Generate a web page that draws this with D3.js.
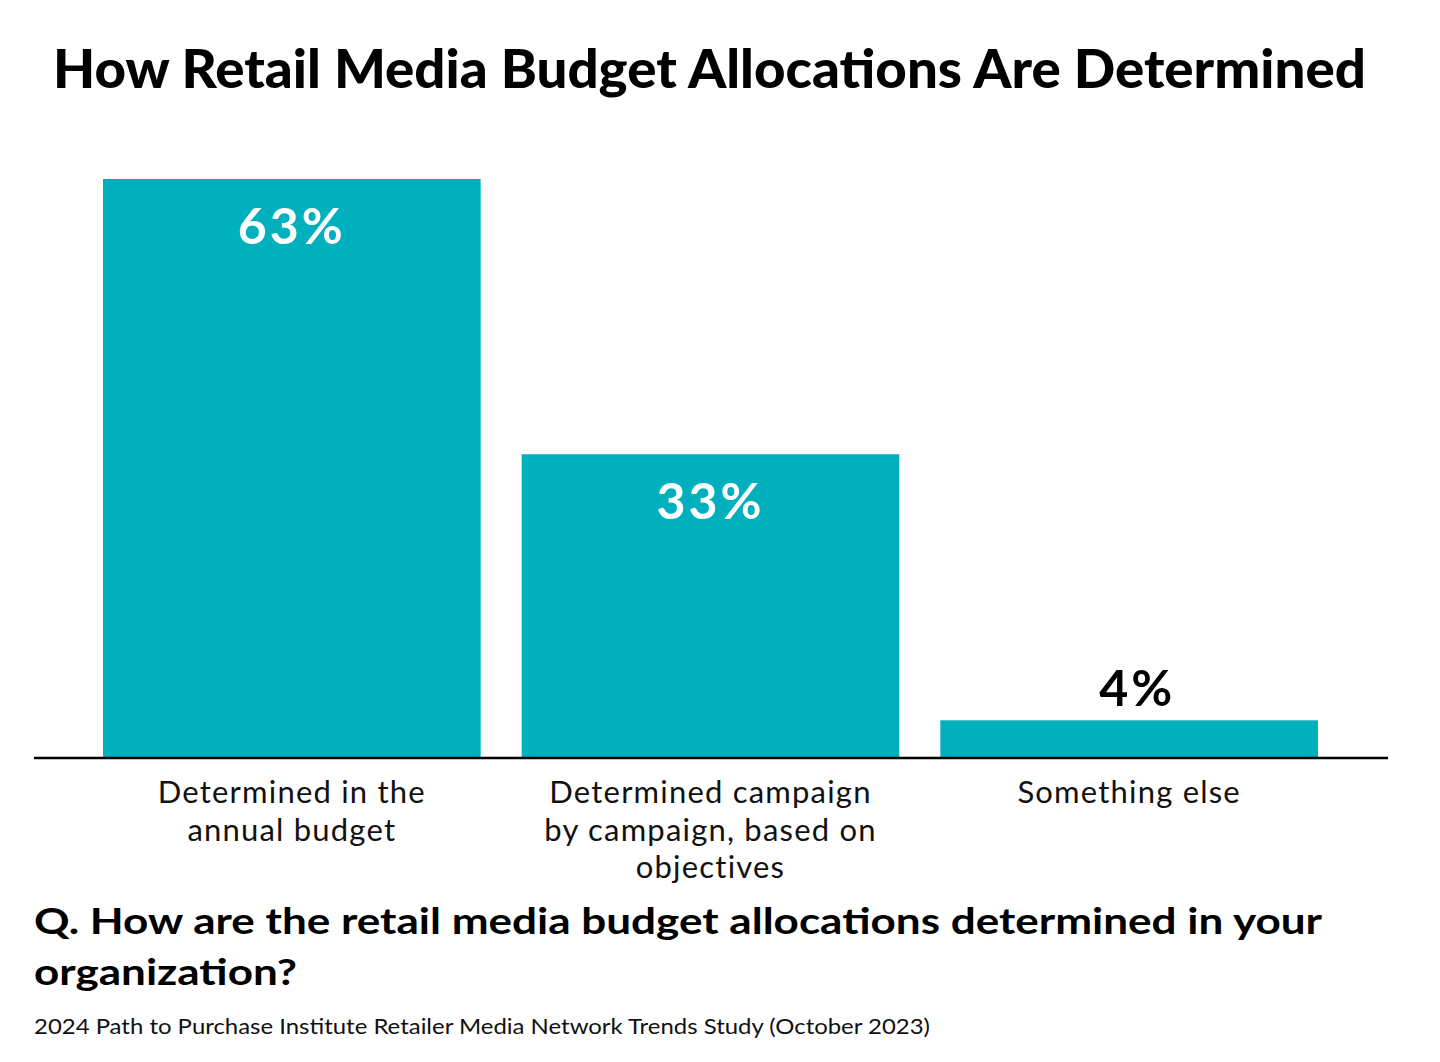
<!DOCTYPE html>
<html>
<head>
<meta charset="utf-8">
<script src="https://cdn.jsdelivr.net/npm/d3@7"></script>
<style>
  html, body { margin: 0; padding: 0; background: #ffffff; }
  svg { display: block; font-family: Lato, "Open Sans", sans-serif; }
</style>
</head>
<body>
<svg id="chart" width="1440" height="1062"></svg>
<script>
// ---- data ----
const categories = [
  ["Determined in the", "annual budget"],
  ["Determined campaign", "by campaign, based on", "objectives"],
  ["Something else"]
];
const values = [63, 33, 4];
const valueLabels = ["63%", "33%", "4%"];
const titleText = "How Retail Media Budget Allocations Are Determined";
const questionLines = ["Q. How are the retail media budget allocations determined in your", "organization?"];
const sourceText = "2024 Path to Purchase Institute Retailer Media Network Trends Study (October 2023)";

// ---- layout ----
const baseY = 757, topY = 179;
const teal = "#00B1BD";
const svg = d3.select("#chart");

const keys = categories.map((c, i) => i);
const x = d3.scaleBand().domain(keys).range([82.5, 1338.5]).paddingInner(0.098).paddingOuter(0.049);
const y = d3.scaleLinear().domain([0, 63]).range([baseY, topY]);

// title
svg.append("text")
  .attr("x", 53).attr("y", 88)
  .attr("font-size", 54).attr("font-weight", 900).attr("fill", "#000")
  .attr("textLength", 1313).attr("lengthAdjust", "spacingAndGlyphs")
  .text(titleText);

// bars
svg.selectAll("rect.bar").data(values).enter().append("rect")
  .attr("class", "bar")
  .attr("x", (d, i) => x(i))
  .attr("width", x.bandwidth())
  .attr("y", d => y(d))
  .attr("height", d => y(0) - y(d))
  .attr("fill", teal);

// value labels
svg.selectAll("text.val").data(values).enter().append("text")
  .attr("class", "val")
  .attr("x", (d, i) => x(i) + x.bandwidth() / 2 + (d >= 10 ? 0 : 8))
  .attr("y", d => d >= 10 ? y(d) + 65 : y(d) - 14)
  .attr("text-anchor", "middle")
  .attr("font-size", 50).attr("font-weight", 700)
  .attr("letter-spacing", 3)
  .attr("fill", d => d >= 10 ? "#ffffff" : "#000000")
  .text((d, i) => valueLabels[i]);

// baseline axis
svg.append("line")
  .attr("x1", 34).attr("x2", 1388)
  .attr("y1", y(0) + 1).attr("y2", y(0) + 1)
  .attr("stroke", "#000").attr("stroke-width", 2.5);

// category labels
categories.forEach((lines, i) => {
  const t = svg.append("text")
    .attr("x", x(i) + x.bandwidth() / 2)
    .attr("y", 803)
    .attr("text-anchor", "middle")
    .attr("font-size", 31).attr("letter-spacing", 1.2).attr("fill", "#111");
  lines.forEach((ln, j) => {
    t.append("tspan")
      .attr("x", x(i) + x.bandwidth() / 2)
      .attr("dy", j === 0 ? 0 : 37.5)
      .text(ln);
  });
});

// question
const qLens = [1288, 263];
questionLines.forEach((ln, j) => {
  svg.append("text")
    .attr("x", 34).attr("y", 934 + j * 51)
    .attr("font-size", 36).attr("font-weight", 700).attr("fill", "#000")
    .attr("textLength", qLens[j]).attr("lengthAdjust", "spacingAndGlyphs")
    .text(ln);
});

// source
svg.append("text")
  .attr("x", 34).attr("y", 1034)
  .attr("font-size", 22).attr("fill", "#111")
  .attr("textLength", 896).attr("lengthAdjust", "spacingAndGlyphs")
  .text(sourceText);
</script>
</body>
</html>
